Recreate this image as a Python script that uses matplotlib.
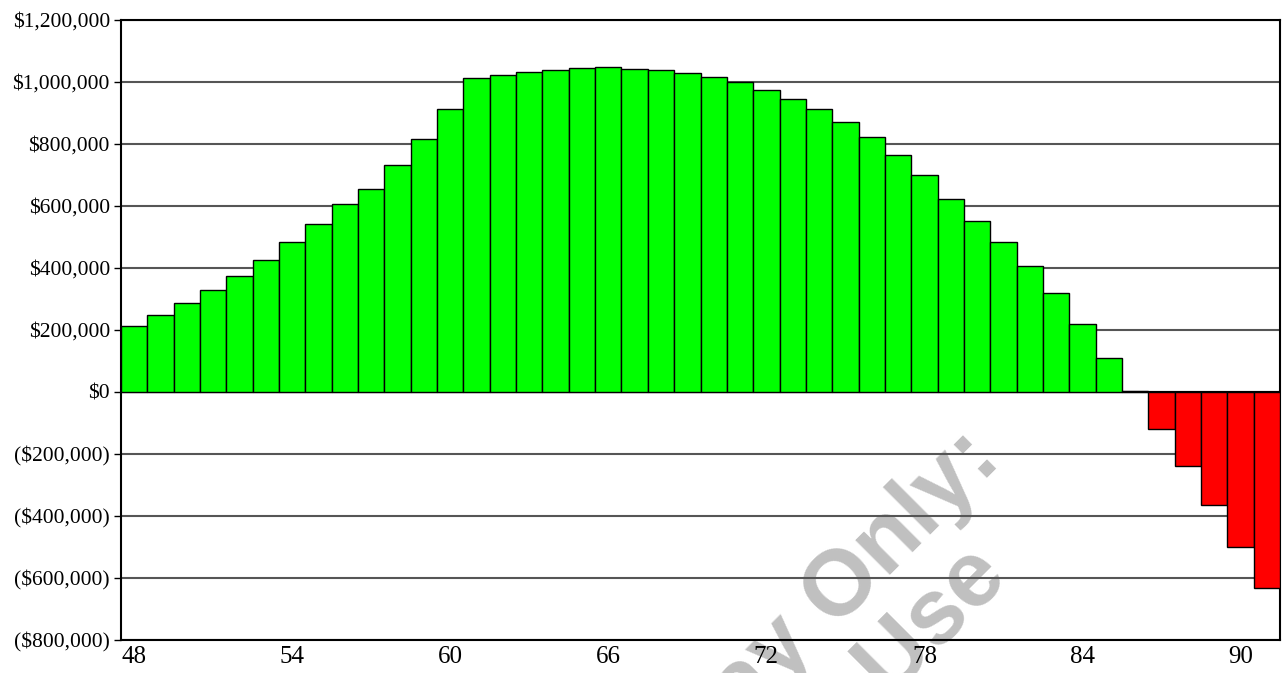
import numpy as np
import matplotlib
matplotlib.use("Agg")
import matplotlib.pyplot as plt
from matplotlib.ticker import FuncFormatter, MultipleLocator

# ages on the x axis, one bar per year
ages = list(range(48, 92))

# balance per age, in dollars
balance = [214000, 248000, 288000, 330000, 375000, 426000, 483000, 542000,
           607000, 654000, 732000, 816000, 912000, 1012000, 1021000, 1031000,
           1038000, 1045000, 1047000, 1043000, 1039000, 1029000, 1017000,
           999000, 975000, 946000, 912000, 870000, 823000, 765000, 700000,
           624000, 552000, 484000, 407000, 320000, 220000, 111000, 2000,
           -118000, -240000, -366000, -499000, -632000]

x_ticks = [48, 54, 60, 66, 72, 78, 84, 90]

plt.rcParams['font.family'] = ['Liberation Serif', 'DejaVu Serif']

W, H = 1286, 673
fig = plt.figure(figsize=(W / 100, H / 100), dpi=100)
ax = fig.add_axes([121 / W, 33 / H, 1159 / W, 620 / H])
ax.set_zorder(1)
ax.patch.set_facecolor('none')

vals = np.array(balance)
colors = np.where(vals >= 0, '#00ff00', '#ff0000')
ax.bar(ages, vals, width=1.0, color=colors, edgecolor='black', linewidth=1.0, zorder=3)

ax.set_xlim(47.5, 91.5)
ax.set_ylim(-800000, 1200000)
ax.yaxis.set_major_locator(MultipleLocator(200000))
ax.set_xticks(x_ticks)

def money(v, pos):
    v = int(round(v))
    if v < 0:
        return '(${:,})'.format(-v)
    return '${:,}'.format(v)

ax.yaxis.set_major_formatter(FuncFormatter(money))
ax.grid(axis='y', color='#555555', linewidth=1.5, zorder=1)
ax.axhline(0, color='black', linewidth=1.5, zorder=2)

ax.tick_params(axis='y', direction='out', length=5, width=1, labelsize=15.5, pad=3)
ax.tick_params(axis='x', length=0, labelsize=18, pad=4)
for s in ax.spines.values():
    s.set_color('black')
    s.set_linewidth(1.5)

# watermark, sitting behind the plot
wm = dict(color='#c0c0c0', fontsize=67, fontweight='bold', family='Liberation Sans',
          rotation=45, rotation_mode='anchor', ha='right', va='baseline', zorder=0)
fig.text(1003 / W, 1 - 462 / H, 'Display Only:', **wm)
fig.text(1010 / W, 1 - 580 / H, 'Not For Use', **wm)

fig.savefig('out.png', dpi=100)
